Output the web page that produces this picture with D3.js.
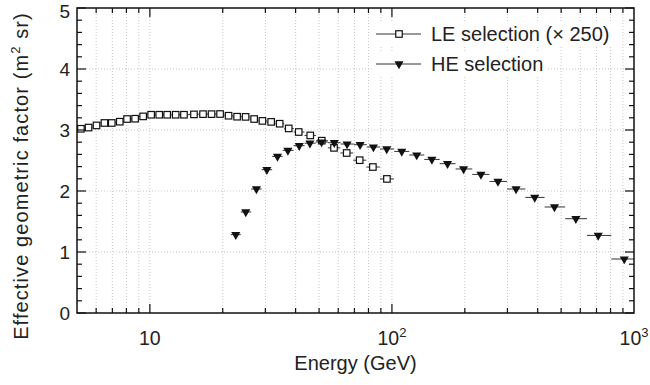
<!DOCTYPE html>
<html lang="en">
<head>
    <meta charset="UTF-8">
    <title>Effective geometric factor</title>
    <script src="https://cdn.jsdelivr.net/npm/d3@7"></script>
    <style>
        body { margin: 0; background: #fff; }
        text { font-family: "Liberation Sans", Arial, Helvetica, sans-serif; fill: #222; }
    </style>
</head>
<body>
    <script>

		// LE selection (x 250), open squares
		var leEnergy = [5.19, 5.58, 6.02, 6.49, 6.96, 7.51, 8.05, 8.69, 9.38, 10.12, 10.93, 11.79, 12.78, 13.83,
		                15.21, 16.58, 17.98, 19.50, 21.14, 22.93, 24.86, 26.96, 29.17, 31.70, 34.38, 37.46,
		                41.20, 45.98, 51.31, 57.64, 65.03, 73.58, 83.42, 95.35];
		var leFactor = [3.02, 3.04, 3.075, 3.115, 3.115, 3.136, 3.18, 3.185, 3.223, 3.25, 3.25, 3.25, 3.25, 3.25,
		                3.256, 3.26, 3.26, 3.262, 3.234, 3.218, 3.215, 3.18, 3.149, 3.133, 3.103, 3.026,
		                2.967, 2.911, 2.825, 2.707, 2.623, 2.505, 2.393, 2.198];

		// HE selection, filled triangles
		var heEnergy = [22.64, 24.90, 27.56, 30.43, 33.67, 37.17, 41.40, 45.84, 51.21, 57.79, 65.26, 73.86, 83.85,
		                95.17, 109.8, 126.6, 146.2, 169.7, 197.7, 233.2, 274.2, 325.6, 389.0, 469.4, 575.2, 711.5, 911.5];
		var heFactor = [1.284, 1.656, 2.033, 2.349, 2.567, 2.666, 2.743, 2.784, 2.803, 2.792, 2.770, 2.759, 2.721,
		                2.689, 2.649, 2.590, 2.518, 2.448, 2.361, 2.272, 2.157, 2.033, 1.895, 1.738, 1.546, 1.272, 0.885];

		var xMajor = [10, 100, 1000];
		var xMajorLabels = [["10", ""], ["10", "2"], ["10", "3"]];
		var yMajor = [0, 1, 2, 3, 4, 5];
		var legendLabels = ["LE selection (\u00d7 250)", "HE selection"];

		var width = 650, height = 385;
		var margin = {top: 8, right: 16, bottom: 72, left: 77};
		var w = width - margin.left - margin.right;
		var h = height - margin.top - margin.bottom;

		var x = d3.scaleLog().domain([5, 1000]).range([0, w]);
		var y = d3.scaleLinear().domain([0, 5]).range([h, 0]);

		// minor positions on the log axis: 6..9, 20..90, 200..900
		var xMinor = [];
		[1, 10, 100].forEach(function(dec) {
			for (var k = 2; k <= 9; k++) {
				var v = k * dec;
				if (v > 5 && v < 1000 && xMajor.indexOf(v) < 0) xMinor.push(v);
			}
		});
		var yMinor = d3.range(0, 5.001, 0.2).filter(function(v) { return Math.abs(v - Math.round(v)) > 0.01; });

		var svg = d3.select("body").append("svg")
					.attr("width", width)
					.attr("height", height);

		var canvas = svg.append("g")
					.attr("transform", "translate(" + margin.left + "," + margin.top + ")");

		canvas.append("clipPath").attr("id", "clip")
			.append("rect").attr("width", w).attr("height", h);

		// grid
		var gridX = xMinor.concat([10, 100]);
		canvas.selectAll(".gx").data(gridX).enter().append("line")
			.attr("x1", function(d) { return x(d); }).attr("x2", function(d) { return x(d); })
			.attr("y1", 0).attr("y2", h)
			.attr("stroke", "#b8b8b8").attr("stroke-width", 0.8).attr("stroke-dasharray", "1,2");
		canvas.selectAll(".gy").data([1, 2, 3, 4]).enter().append("line")
			.attr("x1", 0).attr("x2", w)
			.attr("y1", function(d) { return y(d); }).attr("y2", function(d) { return y(d); })
			.attr("stroke", "#b8b8b8").attr("stroke-width", 0.8).attr("stroke-dasharray", "1,2");

		// bin edges: geometric midpoints between neighbouring centres
		function binEdges(e) {
			var lo = [], hi = [];
			for (var i = 0; i < e.length; i++) {
				var prev = i > 0 ? Math.sqrt(e[i - 1] * e[i]) : e[i] * e[i] / Math.sqrt(e[i] * e[i + 1]);
				var next = i < e.length - 1 ? Math.sqrt(e[i] * e[i + 1]) : e[i] * e[i] / Math.sqrt(e[i - 1] * e[i]);
				lo.push(prev); hi.push(next);
			}
			return {lo: lo, hi: hi};
		}

		var plot = canvas.append("g").attr("clip-path", "url(#clip)");

		var leBins = binEdges(leEnergy);
		var heBins = binEdges(heEnergy);

		plot.selectAll(".leerr").data(leEnergy).enter().append("line")
			.attr("x1", function(d, i) { return x(leBins.lo[i]); })
			.attr("x2", function(d, i) { return x(leBins.hi[i]); })
			.attr("y1", function(d, i) { return y(leFactor[i]); })
			.attr("y2", function(d, i) { return y(leFactor[i]); })
			.attr("stroke", "#333").attr("stroke-width", 1);

		plot.selectAll(".heerr").data(heEnergy).enter().append("line")
			.attr("x1", function(d, i) { return x(heBins.lo[i]); })
			.attr("x2", function(d, i) { return x(heBins.hi[i]); })
			.attr("y1", function(d, i) { return y(heFactor[i]); })
			.attr("y2", function(d, i) { return y(heFactor[i]); })
			.attr("stroke", "#333").attr("stroke-width", 1);

		var sq = 6.5;
		plot.selectAll(".le").data(leEnergy).enter().append("rect")
			.attr("x", function(d) { return x(d) - sq / 2; })
			.attr("y", function(d, i) { return y(leFactor[i]) - sq / 2; })
			.attr("width", sq).attr("height", sq)
			.attr("fill", "#fff").attr("stroke", "#111").attr("stroke-width", 1.2);

		var tri = d3.symbol().type(d3.symbolTriangle).size(36);
		plot.selectAll(".he").data(heEnergy).enter().append("path")
			.attr("d", tri)
			.attr("transform", function(d, i) { return "translate(" + x(d) + "," + y(heFactor[i]) + ") rotate(180)"; })
			.attr("fill", "#111");

		// frame and ticks
		canvas.append("rect").attr("width", w).attr("height", h)
			.attr("fill", "none").attr("stroke", "#111").attr("stroke-width", 1.5);

		function xTicks(vals, len) {
			vals.forEach(function(v) {
				canvas.append("line").attr("x1", x(v)).attr("x2", x(v)).attr("y1", h).attr("y2", h - len)
					.attr("stroke", "#111").attr("stroke-width", 1.2);
				canvas.append("line").attr("x1", x(v)).attr("x2", x(v)).attr("y1", 0).attr("y2", len)
					.attr("stroke", "#111").attr("stroke-width", 1.2);
			});
		}
		function yTicks(vals, len) {
			vals.forEach(function(v) {
				canvas.append("line").attr("x1", 0).attr("x2", len).attr("y1", y(v)).attr("y2", y(v))
					.attr("stroke", "#111").attr("stroke-width", 1.2);
				canvas.append("line").attr("x1", w).attr("x2", w - len).attr("y1", y(v)).attr("y2", y(v))
					.attr("stroke", "#111").attr("stroke-width", 1.2);
			});
		}
		xTicks(xMinor, 5);
		xTicks([10, 100], 9);
		yTicks(yMinor, 5);
		yTicks(yMajor, 9);

		// tick labels (top one nudged so it stays inside the picture)
		canvas.selectAll(".ylab").data(yMajor).enter().append("text")
			.attr("x", -7).attr("y", function(d) { return Math.max(y(d) + 7, 10); })
			.attr("text-anchor", "end").attr("font-size", 19)
			.text(function(d) { return d; });

		var xl = canvas.selectAll(".xlab").data(xMajor).enter().append("text")
			.attr("x", function(d) { return x(d); }).attr("y", h + 32)
			.attr("text-anchor", "middle").attr("font-size", 19.5);
		xl.append("tspan").text(function(d, i) { return xMajorLabels[i][0]; });
		xl.append("tspan").attr("dy", -8).attr("font-size", 13)
			.text(function(d, i) { return xMajorLabels[i][1]; });

		// axis titles
		canvas.append("text").attr("x", w / 2).attr("y", h + 57)
			.attr("text-anchor", "middle").attr("font-size", 20)
			.text("Energy (GeV)");

		var yt = svg.append("text")
			.attr("transform", "translate(28," + 176 + ") rotate(-90)")
			.attr("text-anchor", "middle").attr("font-size", 20).attr("letter-spacing", 1.1);
		yt.append("tspan").text("Effective geometric factor (m");
		yt.append("tspan").attr("dy", -8).attr("font-size", 13).text("2");
		yt.append("tspan").attr("dy", 8).text(" sr)");

		// legend
		var legend = svg.append("g").attr("transform", "translate(376,34)");
		var legendBox = [242, 176];
		legendLabels.forEach(function(lab, i) {
			var g = legend.append("g").attr("transform", "translate(0," + (i * 30) + ")");
			g.append("rect").attr("x", -4).attr("y", -12).attr("width", legendBox[i]).attr("height", 24)
				.attr("fill", "#fff");
			g.append("line").attr("x1", 0).attr("x2", 45).attr("y1", 0).attr("y2", 0)
				.attr("stroke", "#333").attr("stroke-width", 1);
			if (i == 0) {
				g.append("rect").attr("x", 23 - sq / 2).attr("y", -sq / 2).attr("width", sq).attr("height", sq)
					.attr("fill", "#fff").attr("stroke", "#111").attr("stroke-width", 1.2);
			} else {
				g.append("path").attr("d", tri).attr("transform", "translate(23,0) rotate(180)").attr("fill", "#111");
			}
			g.append("text").attr("x", 55).attr("y", 7).attr("font-size", 20).text(lab);
		});

    </script>
</body>
</html>
